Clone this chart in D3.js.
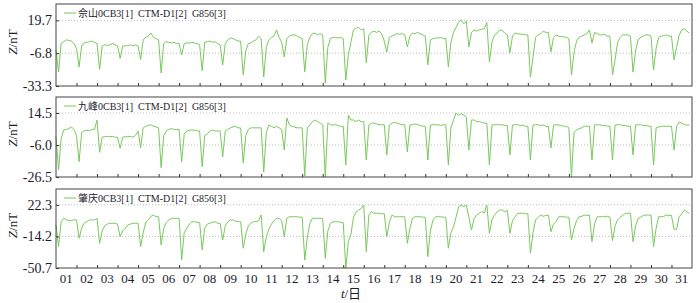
<!DOCTYPE html>
<html>
<head>
<meta charset="utf-8">
<script src="https://cdn.jsdelivr.net/npm/d3@7"></script>
<style>
body { margin: 0; background: #fff; }
text { font-family: "Liberation Serif", "Times New Roman", "Noto Sans CJK SC", serif; fill: #1c1c2c; }
</style>
</head>
<body>
<svg id="chart" width="699" height="303"></svg>
<script>
// day labels on the bottom axis
let dayLabels = ["01", "02", "03", "04", "05", "06", "07", "08", "09", "10",
	"11", "12", "13", "14", "15", "16", "17", "18", "19", "20",
	"21", "22", "23", "24", "25", "26", "27", "28", "29", "30", "31"];

// one sample every 3 hours
let samplesPerDay = 8;

let stationNames = ["佘山", "九峰", "肇庆"];
let legendSuffix = "0CB3[1]  CTM-D1[2]  G856[3]";

let sheshanTicks = [-33.3, -6.8, 19.7];
let jiufengTicks = [-26.5, -6.0, 14.5];
let zhaoqingTicks = [-50.7, -14.2, 22.3];

// Z component (nT), 8 values per day
let sheshanZ = [
	-4, -22, 1, 2.5, 4, 3.5, 3, 1,
	-3, -18, -1, 1.5, 2, 2.5, 3, 2,
	1, -20, -1, 0, -0.5, 0, 1, 0,
	-1, -11, -1, -1, -0.5, 0, -1, 0,
	-1, -12, 4, 6, 7, 9.5, 6, 5,
	4, -22.8, 1, 2.5, 2, 1.5, 2, 1,
	1, -8.3, 1, 1.5, 1.4, 2, 1.5, 1,
	0, -21, 2, 2.5, 3, 2, 2.5, 1,
	0, -16.3, 1, 4, 5.5, 5, 4, 3,
	3, -24.4, -5, 1, 1.5, 3, 4, 7,
	5, -26, -2, 4, 6, 7, 12, 6,
	2, -9.9, 5, 7, 8, 8, 7, 6,
	5, -22, 0, 6, 9, 9.5, 8, 9,
	8, -30.9, -2, 5, 6, 6, 5.5, 6,
	5, -28.5, -8, 2, 12, 13.5, 14, 12,
	13, -14.7, 8, 10, 11, 10, 11, 9,
	3, -5.8, 6, 7, 8, 9, 8.5, 9,
	8, -1.8, 7, 9.5, 9, 10, 9, 8,
	7, -16.3, 4, 5, 5.5, 5.5, 6, 5,
	5, -17.9, 2, 10, 14, 18, 20, 17,
	19, -1.8, 10, 12, 11, 12, 12.5, 13,
	18, -13.9, 2, 8, 9.5, 12, 11.5, 9.5,
	8, -6.6, 7, 9.5, 9, 8.5, 8.5, 8,
	8, -26, -10, 6, 8, 9, 11, 10,
	10, -5.8, 6, 8, 7, 6.5, 6.5, 6,
	5, -24.4, -6, 3, 6, 7, 8, 9,
	12, 1.4, 10, 9, 8, 8, 8.5, 7,
	7, -24.4, -12, 2, 6, 8, 8, 8,
	7, -22, -5, 4, 6, 7, 8, 8,
	7, -20.4, -3, 6, 7, 7.5, 8, 7,
	7, -12.3, -2, 8, 12, 13, 11, 9.5
];

let jiufengZ = [
	-0.7, -22, -2, 3.6, 4, 4.5, 5.6, 4,
	0, -16.7, 2, 3, 3.5, 3, 4, 4,
	10, -10.7, -1, -0.7, -0.5, -0.7, -0.5, -1,
	-1, -8.1, -1, -0.7, -0.7, -0.5, -1, 0,
	3, -7.8, 5, 6, 6.5, 7, 6, 5.6,
	5, -20.5, 0, 3, 4, 4.5, 4, 4,
	4, -16.7, 1, 3, 3.5, 3.6, 3.5, 3,
	3, -19.9, 0, 1, 3, 3.6, 3, 3,
	3, -13.5, 2.9, 4, 5, 5.6, 6, 5,
	4.9, -17.5, 0, 4, 5, 5, 5, 5,
	5, -23.3, 2, 6.8, 6, 5, 6, 5,
	4, -9.2, 11.3, 7, 6, 5.5, 5, 5,
	5, -25.9, 4.9, 7, 9, 10, 9, 8,
	7, -26.5, 8.1, 7, 6.8, 7, 6.5, 6,
	6, -18.8, 13.2, 10, 10, 9, 10, 9,
	9, -15.6, 6.8, 8, 8, 7.5, 7, 7,
	7, -12.4, 6.8, 8, 8.5, 8, 7.5, 7,
	7, -10.5, 6.8, 7, 7.5, 7, 6.5, 6,
	6, -15.6, 6.8, 7, 7, 7, 6.5, 7,
	7, -18.8, 5, 10, 14.5, 13, 14, 13.2,
	12, -9.2, 10, 10, 9, 9, 8.5, 8,
	8, -18.8, 6.8, 7, 7, 7, 7, 6.5,
	6.5, -12.4, 6.8, 7, 7, 6.5, 6.8, 6,
	6, -15.6, 6.8, 7, 7, 6.5, 6.8, 6,
	6, -7.9, 6.8, 7, 6.8, 6.5, 6, 6,
	5, -26.5, 2, 3.6, 4.5, 5, 6, 6,
	6, -15.6, 6.8, 7, 7, 6.5, 6.5, 6,
	6, -15.6, 6.8, 7, 7, 6.5, 6.5, 6,
	6, -12.4, 6.8, 7, 7, 6.5, 6.5, 6,
	6, -18.8, 4.9, 5.5, 6, 6, 6, 6,
	6, -9.2, 6, 8.7, 8, 7, 6.8, 6.8
];

let zhaoqingZ = [
	-0.9, -26, 2.8, 6.7, 5, 4, 4, 4.8,
	4.8, -16.4, -4.7, 1, 2.8, 4.8, 4.8, 5,
	6.7, -22.2, -8, -2, 0, 1, 0.9, 1,
	0, -14.6, -8, -5, -1, 0, 1, 0.9,
	1, -26.1, -10, 2, 4.8, 9, 10.5, 8.5,
	8.5, -24.1, -5, 2, 4.8, 6.7, 6.7, 6.7,
	6.7, -41.5, -10, -4.7, 0, 2.8, 2.8, 2,
	2, -29.9, -4.7, 0, 1, 2, 2.8, 1,
	1, -18.4, -2, 2.8, 4.8, 4.8, 3.5, 2.8,
	2.8, -27.9, -12, -2, 0.9, 2.8, 2.8, 4,
	10.5, -31.9, -15, -6, 0, 4, 6.7, 6.7,
	4, -14.6, 6.7, 8.5, 8.5, 8.5, 8.5, 8,
	8, -41.5, -15, 0.9, 6.7, 6.7, 6.7, 6.7,
	6.7, -39.6, -8, 0.9, 2.8, 2.8, 2.8, 2,
	2, -51, -20, -12, 8, 14, 16.3, 18,
	22, -31.9, 10.5, 14.4, 12.5, 12.5, 12.5, 12,
	12, -14.6, 2, 10.5, 8.5, 8.5, 8.5, 8.5,
	8.5, -22.2, -5, 6.7, 8.5, 8.5, 8.5, 8,
	8, -37.6, -8, 4.8, 8.5, 8.5, 8.5, 8,
	8, -27.9, -10, -3, 8, 20, 22, 20,
	22, 8, -6.8, 6, 10.5, 12.5, 14.4, 13,
	22, -10.6, 5, 10.5, 14, 16.3, 16.3, 14,
	16, -10.6, 4, 8.5, 12.5, 12.5, 12.5, 12,
	12, -33.7, -10, 4.8, 8, 10.5, 9, 10,
	10.5, -8.8, 0, 3, 8.5, 8.5, 8.5, 8,
	8, -18.4, -5, 4, 8.5, 9, 10.5, 10,
	10.5, -20.3, 0, 8.5, 8.5, 8.5, 8.5, 9,
	8, -19.1, -2, 4.8, 8, 10, 12.5, 12.5,
	12.5, -20.3, -2, 6.7, 8, 10, 10.5, 10.5,
	10.5, -26, -5, 8.5, 8.5, 9, 10.5, 10,
	10, -6.1, -6, 8.5, 12, 16.3, 14, 12.5
];

let svg = d3.select("#chart");
let lineColor = "#79c95c";

let left = 56, right = 692;
let panels = [
	{ top: 4, bottom: 86, ticks: sheshanTicks, values: sheshanZ, name: stationNames[0] },
	{ top: 97, bottom: 177, ticks: jiufengTicks, values: jiufengZ, name: stationNames[1] },
	{ top: 189, bottom: 268, ticks: zhaoqingTicks, values: zhaoqingZ, name: stationNames[2] }
];

let xScale = d3.scaleLinear()
	.domain([0, dayLabels.length])
	.range([left, right]);

panels.forEach((p, k) => {
	let g = svg.append("g");
	let t = p.ticks;
	// top tick sits at 80% of the panel height
	let yScale = d3.scaleLinear()
		.domain([t[0], t[2] + (t[2] - t[0]) * 0.25])
		.range([p.bottom, p.top]);

	// dotted grid lines
	g.selectAll(".grid")
		.data(t.slice(1))
		.enter()
		.append("line")
		.attr("x1", left)
		.attr("x2", right)
		.attr("y1", d => yScale(d))
		.attr("y2", d => yScale(d))
		.attr("stroke", "#aaa")
		.attr("stroke-width", 0.8)
		.attr("stroke-dasharray", "1,2");

	// the series
	let line = d3.line()
		.x((d, i) => xScale(i / samplesPerDay))
		.y(d => yScale(d));
	g.append("path")
		.attr("d", line(p.values))
		.attr("fill", "none")
		.attr("stroke", lineColor)
		.attr("stroke-width", 1);

	// y axis, ticks pointing inward
	let yAxis = d3.axisLeft(yScale)
		.tickValues(t)
		.tickSize(-3)
		.tickPadding(4)
		.tickFormat(d => d.toFixed(1));
	let ya = g.append("g")
		.attr("transform", "translate(" + left + ",0)")
		.call(yAxis);
	ya.select(".domain").remove();
	ya.selectAll("line").attr("stroke", "#333");
	ya.selectAll("text")
		.attr("font-size", 14)
		.attr("font-family", "Liberation Serif")
		.attr("fill", "#1c1c2c");

	// x axis ticks at day boundaries
	let xAxis = d3.axisBottom(xScale)
		.tickValues(d3.range(1, dayLabels.length))
		.tickSize(-3)
		.tickFormat("");
	let xa = g.append("g")
		.attr("transform", "translate(0," + p.bottom + ")")
		.call(xAxis);
	xa.select(".domain").remove();
	xa.selectAll("line").attr("stroke", "#333");

	// frame
	g.append("rect")
		.attr("x", left)
		.attr("y", p.top)
		.attr("width", right - left)
		.attr("height", p.bottom - p.top)
		.attr("fill", "none")
		.attr("stroke", "#444")
		.attr("stroke-width", 1);

	// legend
	g.append("line")
		.attr("x1", 64)
		.attr("x2", 76)
		.attr("y1", p.top + 9)
		.attr("y2", p.top + 9)
		.attr("stroke", lineColor)
		.attr("stroke-width", 1);
	g.append("text")
		.attr("x", 78)
		.attr("y", p.top + 13)
		.attr("font-size", 10)
		.style("white-space", "pre")
		.text(p.name + legendSuffix);

	// y title
	let yt = g.append("text")
		.attr("transform", "translate(17," + ((p.top + p.bottom) / 2 - 3) + ") rotate(-90)")
		.attr("text-anchor", "middle")
		.attr("font-size", 13);
	yt.append("tspan").attr("font-style", "italic").text("Z");
	yt.append("tspan").text("/nT");

	// day labels only under the last panel
	if (k == panels.length - 1) {
		g.selectAll(".day")
			.data(dayLabels)
			.enter()
			.append("text")
			.attr("x", (d, i) => xScale(i + 0.5))
			.attr("y", p.bottom + 15)
			.attr("text-anchor", "middle")
			.attr("font-size", 13)
			.text(d => d);
	}
});

// x title
let xt = svg.append("text")
	.attr("x", 351)
	.attr("y", 298)
	.attr("text-anchor", "middle")
	.attr("font-size", 13);
xt.append("tspan").attr("font-style", "italic").text("t");
xt.append("tspan").text("/日");
</script>
</body>
</html>
